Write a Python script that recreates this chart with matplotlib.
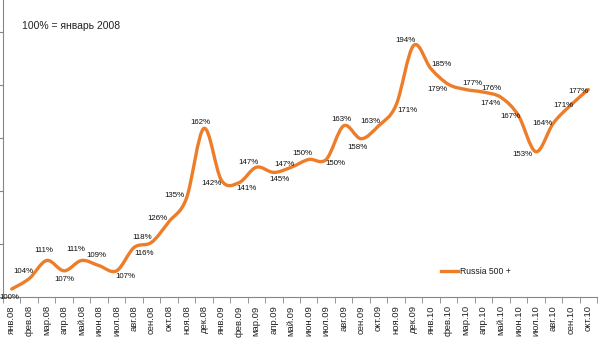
import numpy as np
import matplotlib
matplotlib.use("Agg")
import matplotlib.pyplot as plt
from matplotlib.path import Path
from matplotlib.patches import PathPatch
from matplotlib.lines import Line2D

months = ["янв.08", "фев.08", "мар.08", "апр.08", "май.08", "июн.08", "июл.08", "авг.08",
          "сен.08", "окт.08", "ноя.08", "дек.08",
          "янв.09", "фев.09", "мар.09", "апр.09", "май.09", "июн.09", "июл.09", "авг.09",
          "сен.09", "окт.09", "ноя.09", "дек.09",
          "янв.10", "фев.10", "мар.10", "апр.10", "май.10", "июн.10", "июл.10", "авг.10",
          "сен.10", "окт.10"]
values = [100, 104, 111, 107, 111, 109, 107, 116, 118, 126, 135, 162,
          142, 141, 147, 145, 147, 150, 150, 163, 158, 163, 171, 194,
          185, 179, 177, 176, 174, 167, 153, 164, 171, 177]
series_name = "Russia 500 +"
note = "100% = январь 2008"

# label offsets in pixels (style only)
label_offsets = [(-2, -9), (-6, 7), (-3, 10), (0, -9), (-6, 11), (-3, 10), (9, -6), (10, -6),
                 (-9, 5), (-12, 3), (-12, 3), (-3, 6), (-10, -3), (8, -6), (-8, 5), (6, -7),
                 (-7, 3), (-6, 6), (9, -4), (-2, 6), (-4, -9), (-8, 4), (11, -5), (-8, 5),
                 (10, 4), (-11, -5), (6, 6), (8, 4), (-10, -6), (-8, -1), (-13, -3), (-11, 0),
                 (-7, 0), (-10, -2)]

plt.rcParams['font.family'] = ['Liberation Sans', 'DejaVu Sans']

W, H = 600, 352
fig = plt.figure(figsize=(W / 100, H / 100), dpi=100)
ax = fig.add_axes([3 / W, (H - 297) / H, (597 - 3) / W, 297 / H])

orange = '#EE7D2A'
x = np.arange(len(values))
y = np.array(values, dtype=float)

# smooth curve (Excel-like Catmull-Rom Bezier)
pts = np.column_stack([x, y])
verts = [tuple(pts[0])]
codes = [Path.MOVETO]
n = len(pts)
for i in range(n - 1):
    p0 = pts[i - 1] if i > 0 else pts[i]
    p1 = pts[i]
    p2 = pts[i + 1]
    p3 = pts[i + 2] if i + 2 < n else pts[i + 1]
    c1 = p1 + (p2 - p0) / 6.0
    c2 = p2 - (p3 - p1) / 6.0
    verts += [tuple(c1), tuple(c2), tuple(p2)]
    codes += [Path.CURVE4] * 3
ax.add_patch(PathPatch(Path(verts, codes), facecolor='none', edgecolor=orange,
                       lw=2.4, capstyle='round', joinstyle='round', zorder=3))

for xi, yi, (dx, dy) in zip(x, y, label_offsets):
    ax.annotate(f"{int(yi)}%", (xi, yi), xytext=(dx, dy), textcoords='offset pixels',
                ha='center', va='center', fontsize=5.7, color='#111111', zorder=4,
                annotation_clip=False)

ymin = 96.9
ymax = ymin + 297 / 2.59
ax.set_xlim(-0.5, len(values) - 0.5)
ax.set_ylim(ymin, ymax)

ax.set_xticks(x)
ax.set_xticklabels(months, rotation=90, fontsize=6.8, color='#222222')
ax.set_xticks(np.arange(-0.5, len(values), 1.0), minor=True)
ax.tick_params(axis='x', which='major', length=0, pad=6)
ax.tick_params(axis='x', which='minor', length=4, color='#868686', direction='out')
ax.set_yticks(np.arange(ymin, ymax, 20.5))
ax.tick_params(axis='y', length=3, color='#868686', direction='out', labelleft=False)

for s in ['top', 'right']:
    ax.spines[s].set_visible(False)
for s in ['left', 'bottom']:
    ax.spines[s].set_color('#868686')
    ax.spines[s].set_linewidth(0.8)

fig.text(22 / W, 1 - 26 / H, note, fontsize=7.5, color='#222222', va='center', ha='left')

handle = Line2D([0], [0], color=orange, lw=2.4)
leg = fig.legend([handle], [series_name], loc='center left',
                 bbox_to_anchor=(432 / W, 1 - 272 / H), fontsize=6.2, frameon=True,
                 handlelength=2.0, handletextpad=0.2, borderpad=0.5)
leg.get_frame().set_edgecolor('none')
leg.get_frame().set_facecolor('white')
for t in leg.get_texts():
    t.set_color('#1a1a1a')

fig.savefig("out.png", dpi=100)
